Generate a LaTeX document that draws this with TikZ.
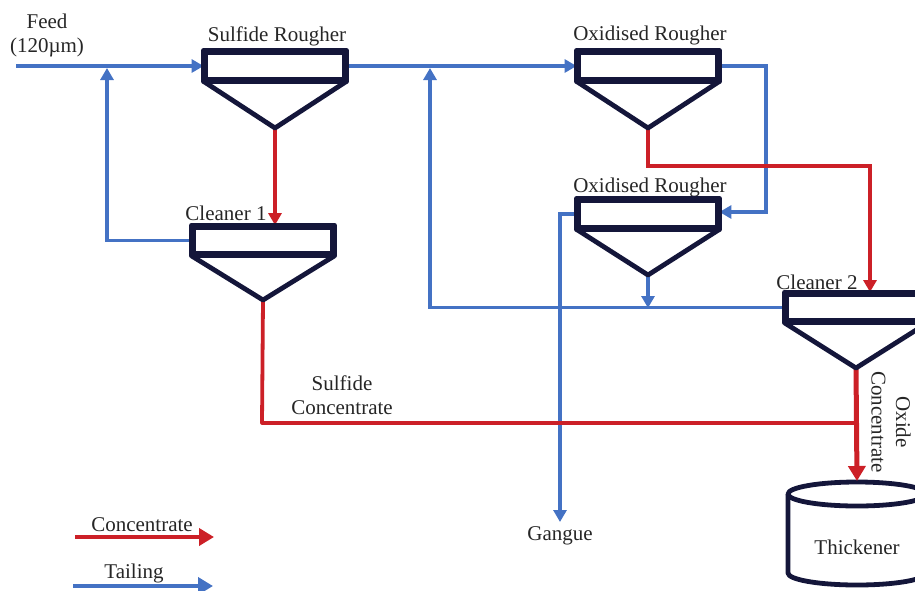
\documentclass[tikz,border=0pt]{standalone}
\usepackage{fontspec}
\setmainfont{Liberation Serif}
\usetikzlibrary{arrows.meta}
\definecolor{flowblue}{RGB}{68,114,196}
\definecolor{flowred}{RGB}{204,32,39}
\definecolor{navy}{RGB}{20,22,58}
\begin{document}
\begin{tikzpicture}[x=1pt,y=-1pt,
  lbl/.style={font=\fontsize{21}{24.5}\selectfont, inner sep=0pt, text=black!85},
  cellbox/.style={draw=navy, line width=4.8pt, line join=round, minimum width=138pt, minimum height=26pt, inner sep=0pt, fill=white},
  funnel/.style={draw=navy, line width=4.8pt, line join=round},
  tail/.style={draw=flowblue, line width=3.3pt},
  conc/.style={draw=flowred, line width=3.8pt},
  tip/.style={-{Triangle[length=12pt,width=13pt]}},
  bigtip/.style={-{Triangle[length=15pt,width=17pt]}}]
\useasboundingbox (0,0) rectangle (915,590);
% cells
\node[cellbox] (sr) at (275,66) {};
\coordinate (srv) at (275,128);
\node[cellbox] (c1) at (263,240.5) {};
\coordinate (c1v) at (263,300);
\node[cellbox] (or1) at (648,66) {};
\coordinate (or1v) at (648,128);
\node[cellbox] (or2) at (648,214) {};
\coordinate (or2v) at (648,275);
\node[cellbox] (c2) at (856,307.5) {};
\coordinate (c2v) at (856,368);
% thickener
\coordinate (thtop) at (857,494);
\node[lbl] (th) at (857,547) {Thickener};
\draw[funnel] (thtop) ellipse [x radius=69, y radius=12];
\draw[funnel] (788,494) -- (788,573) arc[start angle=180, end angle=0, x radius=69, y radius=12] -- (926,494);
% labels
\node[lbl] (feed) at (47,21) {Feed};
\node[lbl] (feedsz) at (47,47) {(120µm)};
\node[lbl] (lsr) at (277,36) {Sulfide Rougher};
\node[lbl] (lor1) at (650,35) {Oxidised Rougher};
\node[lbl] (lor2) at (650,187) {Oxidised Rougher};
\node[lbl] (lc1) at (226,213) {Cleaner 1};
\node[lbl] (lc2) at (817,282) {Cleaner 2};
\node[lbl, align=center] (lsc) at (342,395) {Sulfide\\Concentrate};
\node[lbl, align=center, rotate=-90] (loc) at (891,422) {Oxide\\Concentrate};
\node[lbl] (gangue) at (560,536) {Gangue};
% feed
\coordinate (feedin) at (16,66);
\draw[tail,tip] (feedin) -- (sr.west);
% cleaner 1 tailing recycle
\coordinate (r1a) at (107,240.5);
\coordinate (r1b) at (107,68);
\draw[tail,tip] (c1.west) -- (r1a) -- (r1b);
% sulfide rougher concentrate
\draw[conc,tip] (srv) -- (srv |- c1.north);
% sulfide rougher tailing
\draw[tail,tip] (sr.east) -- (or1.west);
% cleaner 2 tailing recycle
\coordinate (r2a) at (430,307.5);
\coordinate (r2b) at (430,68);
\draw[tail,tip] (c2.west) -- (r2a) -- (r2b);
% oxidised rougher 2 concentrate
\coordinate (or2c) at (648,308);
\draw[tail,tip] (or2v) -- (or2c);
% oxidised rougher 1 tailing
\coordinate (t1a) at (766,66);
\coordinate (t1b) at (766,212);
\draw[tail,tip] (or1.east) -- (t1a) -- (t1b) -- (or2.east |- t1b);
% oxidised rougher 1 concentrate
\coordinate (o1a) at (648,166);
\coordinate (o1b) at (870,166);
\draw[conc,tip] (or1v) -- (o1a) -- (o1b) -- (o1b |- c2.north);
% oxidised rougher 2 tailing -> gangue
\coordinate (g1) at (560,214);
\coordinate (g2) at (560,522);
\draw[tail,tip] (or2.west) -- (g1) -- (g2);
% sulfide concentrate
\coordinate (s1) at (262,423);
\coordinate (s2) at (856,423);
\draw[conc, line join=round] (c1v) -- (s1) -- (s2);
% cleaner 2 concentrate
\draw[conc, line width=5pt, bigtip] (c2v) -- (thtop |- 0,481);
% funnels (drawn last so outlines lie on top)
\foreach \n/\v in {sr/srv, c1/c1v, or1/or1v, or2/or2v, c2/c2v}{
  \draw[funnel] (\n.south west) -- (\v) -- (\n.south east);
  \draw[navy, line width=4.8pt, line join=round] (\n.south west) rectangle (\n.north east);
}
% legend
\coordinate (lca) at (75,537);
\coordinate (lcb) at (214,537);
\draw[conc, line width=4.5pt, bigtip] (lca) -- (lcb);
\node[lbl] (lconc) at (142,525) {Concentrate};
\coordinate (lta) at (73,586);
\coordinate (ltb) at (213,586);
\draw[tail, line width=4.5pt, bigtip] (lta) -- (ltb);
\node[lbl] (ltail) at (134,573) {Tailing};
\end{tikzpicture}
\end{document}
